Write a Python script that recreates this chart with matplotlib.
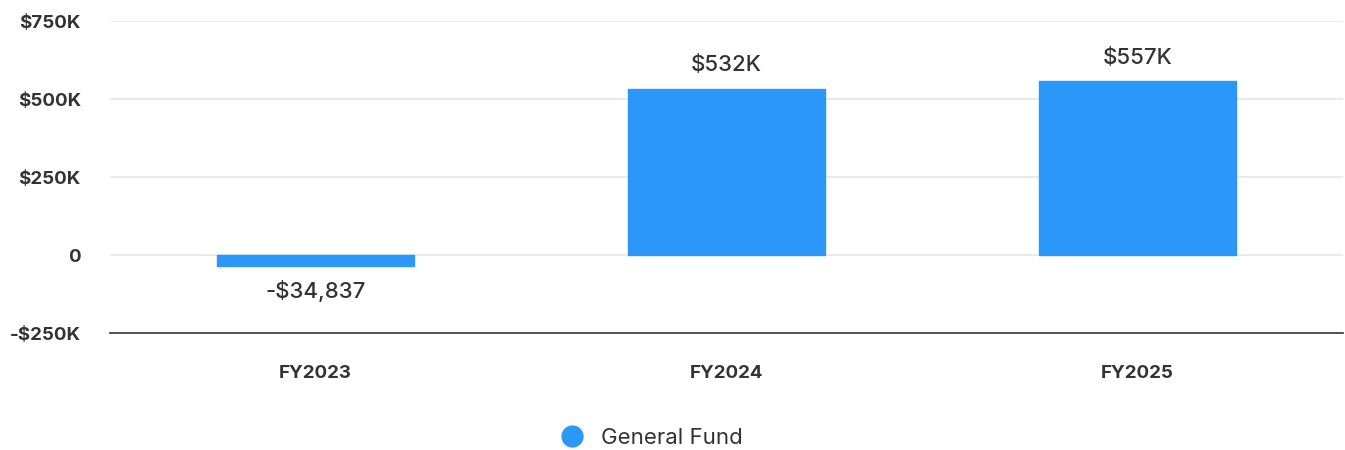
import matplotlib
matplotlib.use("Agg")
import matplotlib.pyplot as plt
from matplotlib.lines import Line2D

categories = ["FY2023", "FY2024", "FY2025"]
values = [-34837, 532000, 557000]
labels = ["-$34,837", "$532K", "$557K"]
yticks = [-250000, 0, 250000, 500000, 750000]
yticklabels = ["-$250K", "0", "$250K", "$500K", "$750K"]
series_name = "General Fund"

color = "#2A97F9"
text_color = "#333333"
font = ["Inter", "DejaVu Sans"]

fig = plt.figure(figsize=(13.45, 4.5), dpi=100)
ax = fig.add_axes([110/1345, (450-333)/450, (1343-110)/1345, (333-21)/450])

x = list(range(len(categories)))
bars = ax.bar(x, values, width=0.48, color=color, edgecolor=color,
              linewidth=1.0, joinstyle="round", zorder=3)

ax.set_xlim(-0.5, 2.5)
ax.set_ylim(-250000, 750000)
ax.set_yticks(yticks)
ax.set_yticklabels(yticklabels, family=font, fontweight="bold", fontsize=13.5, color=text_color)
ax.set_xticks(x)
ax.set_xticklabels(categories, family=font, fontweight="bold", fontsize=13.5, color=text_color)
ax.tick_params(axis="y", length=0, pad=21)
ax.tick_params(axis="x", length=0, pad=23)

ax.grid(axis="y", color="#e6e6e6", linewidth=1.2, zorder=0)
for s in ["top", "right", "left"]:
    ax.spines[s].set_visible(False)
ax.spines["bottom"].set_color("#333333")
ax.spines["bottom"].set_linewidth(1.2)

for xi, v, lab in zip(x, values, labels):
    off = 17 if v >= 0 else -18
    ax.annotate(lab, (xi, v), xytext=(0, off), textcoords="offset points",
                ha="center", va="center", fontsize=16, family=font,
                fontweight="medium", color=text_color)

handle = Line2D([], [], marker="o", linestyle="none", markersize=15,
                markerfacecolor=color, markeredgecolor=color)
fig.legend([handle], [series_name], loc="center", bbox_to_anchor=(646/1345, (450-438)/450),
           frameon=False, prop={"family": font, "size": 16}, labelcolor=text_color,
           handletextpad=0.3)

fig.savefig("out.png", dpi=100, facecolor="white")
